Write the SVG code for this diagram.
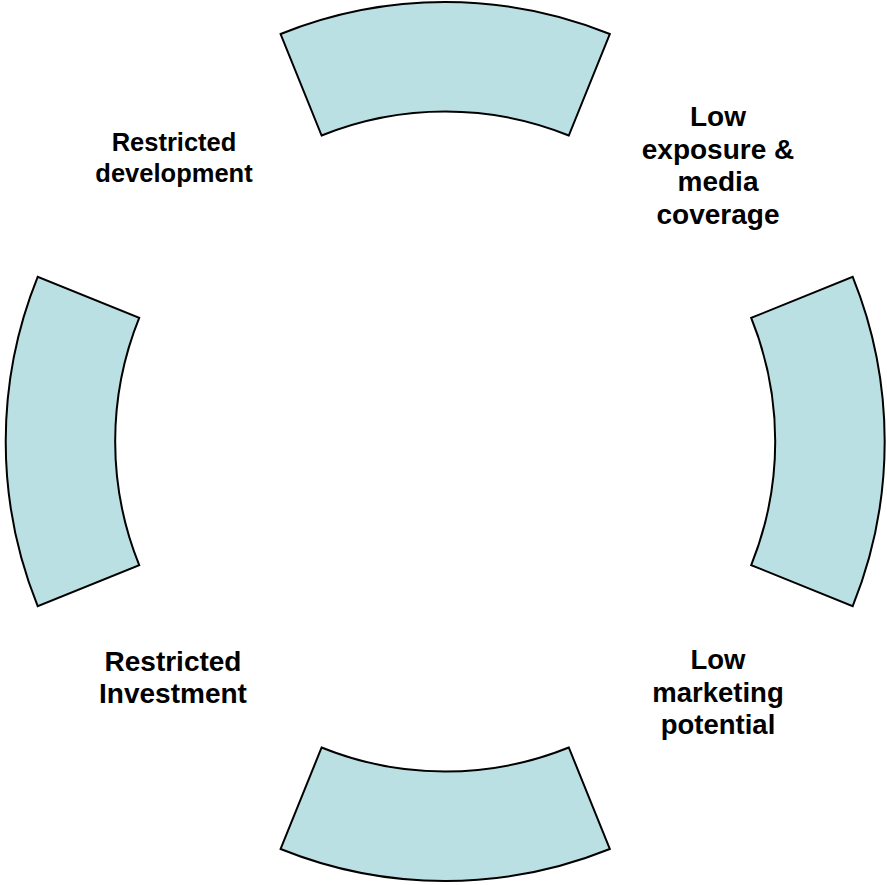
<svg xmlns="http://www.w3.org/2000/svg" width="887" height="885" viewBox="0 0 887 885">
<style>
.seg{fill:#BBE0E3;stroke:#000;stroke-width:2;stroke-linejoin:miter}
.lbl{font-family:"Liberation Sans",Arial,sans-serif;font-weight:bold;fill:#000;text-anchor:middle}
</style>
<rect width="887" height="885" fill="#fff"/>
<g id="seg-top"><path class="seg" d="M280.6 34 A439.5 439.5 0 0 1 609.8 34 L568.8 135.5 A330 330 0 0 0 321.6 135.5 Z"/></g>
<g id="seg-right"><path class="seg" d="M852.7 276.9 A439.5 439.5 0 0 1 852.7 606.1 L751.2 565.1 A330 330 0 0 0 751.2 317.9 Z"/></g>
<g id="seg-bottom"><path class="seg" d="M609.8 849 A439.5 439.5 0 0 1 280.6 849 L321.6 747.5 A330 330 0 0 0 568.8 747.5 Z"/></g>
<g id="seg-left"><path class="seg" d="M37.7 606.1 A439.5 439.5 0 0 1 37.7 276.9 L139.2 317.9 A330 330 0 0 0 139.2 565.1 Z"/></g>
<g id="label-restricted-development" class="lbl" font-size="25.5"><text x="174" y="150.5">Restricted</text><text x="174" y="181.5">development</text></g>
<g id="label-low-exposure" class="lbl" font-size="28"><text x="718" y="126">Low</text><text x="718" y="158.5">exposure &amp;</text><text x="718" y="191">media</text><text x="718" y="223.5">coverage</text></g>
<g id="label-restricted-investment" class="lbl" font-size="28"><text x="173" y="671">Restricted</text><text x="173" y="702.5">Investment</text></g>
<g id="label-low-marketing" class="lbl" font-size="27.5"><text x="718" y="669">Low</text><text x="718" y="701.5">marketing</text><text x="718" y="734">potential</text></g>
<g id="connectors"></g>
</svg>
